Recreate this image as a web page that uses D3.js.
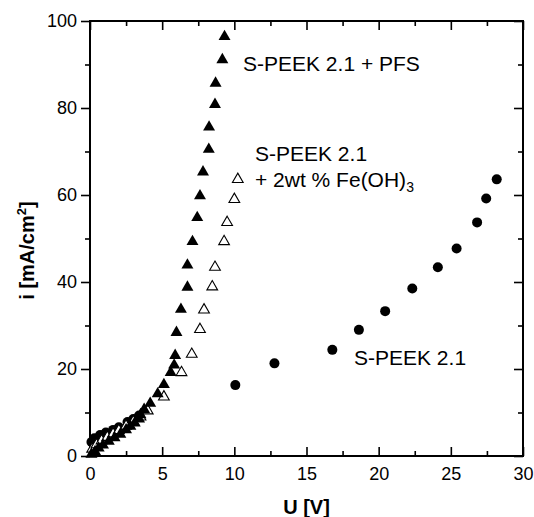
<!DOCTYPE html>
<html>
<head>
<meta charset="utf-8">
<script src="https://cdn.jsdelivr.net/npm/d3@7"></script>
<style>
    body { margin: 0; background: #fff; }
    svg { display: block; font-family: "Liberation Sans", Arial, sans-serif; }
</style>
</head>
<body>
<div id="chart"></div>
<script>
// S-PEEK 2.1 (filled circles)
const speekU = [0.1, 0.3, 0.7, 1.1, 1.6, 2.0, 2.6, 3.0, 3.4, 10.07, 12.78, 16.79, 18.63, 20.45, 22.33, 24.1, 25.4, 26.82, 27.45, 28.18];
const speekI = [3.2, 4.1, 4.8, 5.4, 6.0, 6.6, 7.8, 8.5, 9.3, 16.3, 21.3, 24.4, 29.0, 33.3, 38.5, 43.4, 47.7, 53.7, 59.2, 63.6];

// S-PEEK 2.1 + 2wt % Fe(OH)3 (open triangles)
const feU = [0.15, 0.45, 0.8, 1.2, 1.6, 2.0, 2.5, 3.0, 3.5, 4.0, 5.12, 6.34, 7.05, 7.62, 7.90, 8.47, 8.66, 9.29, 9.50, 10.0, 10.24];
const feI = [1.6, 2.6, 3.5, 4.3, 5.1, 5.9, 6.9, 7.9, 9.0, 10.4, 13.6, 19.2, 23.4, 29.1, 33.6, 38.9, 43.4, 49.3, 53.7, 59.0, 63.6];

// S-PEEK 2.1 + PFS (filled triangles)
const pfsU = [0.1, 0.35, 0.6, 0.9, 1.3, 1.7, 2.1, 2.5, 2.8, 3.1, 3.4, 3.5, 3.75, 4.17, 4.69, 5.12, 5.59, 5.83, 5.90, 5.99, 6.30, 6.75, 6.75, 7.10, 7.43, 7.62, 7.83, 8.23, 8.25, 8.66, 8.70, 9.17, 9.32];
const pfsI = [0.4, 1.0, 1.8, 2.5, 3.4, 4.2, 5.0, 6.0, 6.8, 7.6, 8.5, 9.5, 10.7, 12.1, 14.3, 16.4, 19.2, 20.9, 23.1, 28.4, 33.7, 38.8, 43.9, 49.3, 54.8, 59.8, 65.3, 70.5, 75.6, 80.8, 85.7, 91.1, 96.4];

const xMajor = [0, 5, 10, 15, 20, 25, 30];
const xMinor = [2.5, 7.5, 12.5, 17.5, 22.5, 27.5];
const yMajor = [0, 20, 40, 60, 80, 100];
const yMinor = [10, 30, 50, 70, 90];

const width = 534, height = 517;
const margin = { top: 21, right: 11, bottom: 61, left: 90 };

const x = d3.scaleLinear().domain([0, 30]).range([margin.left, width - margin.right]);
const y = d3.scaleLinear().domain([0, 100]).range([height - margin.bottom, margin.top]);

const svg = d3.select("#chart").append("svg")
    .attr("width", width)
    .attr("height", height);

const style = g => {
    g.select(".domain").remove();
    g.selectAll(".tick line").attr("stroke", "#000").attr("stroke-width", 1.6);
    g.selectAll(".tick text").attr("font-size", 18).attr("fill", "#000");
};

// bottom axis, ticks inward
svg.append("g").attr("transform", `translate(0,${y(0)})`)
    .call(d3.axisBottom(x).tickValues(xMajor).tickSize(-9).tickPadding(11))
    .call(style);
svg.append("g").attr("transform", `translate(0,${y(0)})`)
    .call(d3.axisBottom(x).tickValues(xMinor).tickSize(-5).tickFormat(""))
    .call(style);

// top axis
svg.append("g").attr("transform", `translate(0,${y(100)})`)
    .call(d3.axisTop(x).tickValues(xMajor).tickSize(-9).tickFormat(""))
    .call(style);
svg.append("g").attr("transform", `translate(0,${y(100)})`)
    .call(d3.axisTop(x).tickValues(xMinor).tickSize(-5).tickFormat(""))
    .call(style);

// left axis, ticks outward
svg.append("g").attr("transform", `translate(${x(0)},0)`)
    .call(d3.axisLeft(y).tickValues(yMajor).tickSize(9).tickPadding(4))
    .call(style);
svg.append("g").attr("transform", `translate(${x(0)},0)`)
    .call(d3.axisLeft(y).tickValues(yMinor).tickSize(5).tickFormat(""))
    .call(style);

// right axis
svg.append("g").attr("transform", `translate(${x(30)},0)`)
    .call(d3.axisRight(y).tickValues(yMajor).tickSize(-9).tickFormat(""))
    .call(style);
svg.append("g").attr("transform", `translate(${x(30)},0)`)
    .call(d3.axisRight(y).tickValues(yMinor).tickSize(-5).tickFormat(""))
    .call(style);

// frame
svg.append("rect")
    .attr("x", x(0)).attr("y", y(100))
    .attr("width", x(30) - x(0)).attr("height", y(0) - y(100))
    .attr("fill", "none").attr("stroke", "#000").attr("stroke-width", 2);

// markers
svg.append("g").selectAll("circle")
    .data(d3.range(speekU.length))
    .join("circle")
    .attr("cx", i => x(speekU[i]))
    .attr("cy", i => y(speekI[i]))
    .attr("r", 5)
    .attr("fill", "#000");

const tri = d3.symbol().type(d3.symbolTriangle);

svg.append("g").selectAll("path")
    .data(d3.range(feU.length))
    .join("path")
    .attr("transform", i => `translate(${x(feU[i])},${y(feI[i])})`)
    .attr("d", tri.size(50)())
    .attr("fill", "#fff")
    .attr("stroke", "#000")
    .attr("stroke-width", 1.1);

svg.append("g").selectAll("path")
    .data(d3.range(pfsU.length))
    .join("path")
    .attr("transform", i => `translate(${x(pfsU[i])},${y(pfsI[i])})`)
    .attr("d", tri.size(62)())
    .attr("fill", "#000");

// axis titles
svg.append("text")
    .attr("x", (x(0) + x(30)) / 2)
    .attr("y", 514)
    .attr("text-anchor", "middle")
    .attr("font-size", 20)
    .attr("font-weight", "bold")
    .text("U [V]");

const yt = svg.append("text")
    .attr("transform", `translate(34,${(y(0) + y(100)) / 2 + 12}) rotate(-90)`)
    .attr("text-anchor", "middle")
    .attr("font-size", 20)
    .attr("font-weight", "bold");
yt.append("tspan").text("i [mA/cm");
yt.append("tspan").attr("font-size", 13).attr("dy", -8).text("2");
yt.append("tspan").attr("dy", 8).text("]");

// annotations
svg.append("text")
    .attr("x", 243).attr("y", 71)
    .attr("font-size", 21)
    .text("S-PEEK 2.1 + PFS");

svg.append("text")
    .attr("x", 255).attr("y", 161)
    .attr("font-size", 21)
    .text("S-PEEK 2.1");

const fe = svg.append("text")
    .attr("x", 255).attr("y", 187)
    .attr("font-size", 21);
fe.append("tspan").text("+ 2wt % Fe(OH)");
fe.append("tspan").attr("font-size", 14).attr("dy", 5).text("3");

svg.append("text")
    .attr("x", 354).attr("y", 365)
    .attr("font-size", 21)
    .text("S-PEEK 2.1");
</script>
</body>
</html>
